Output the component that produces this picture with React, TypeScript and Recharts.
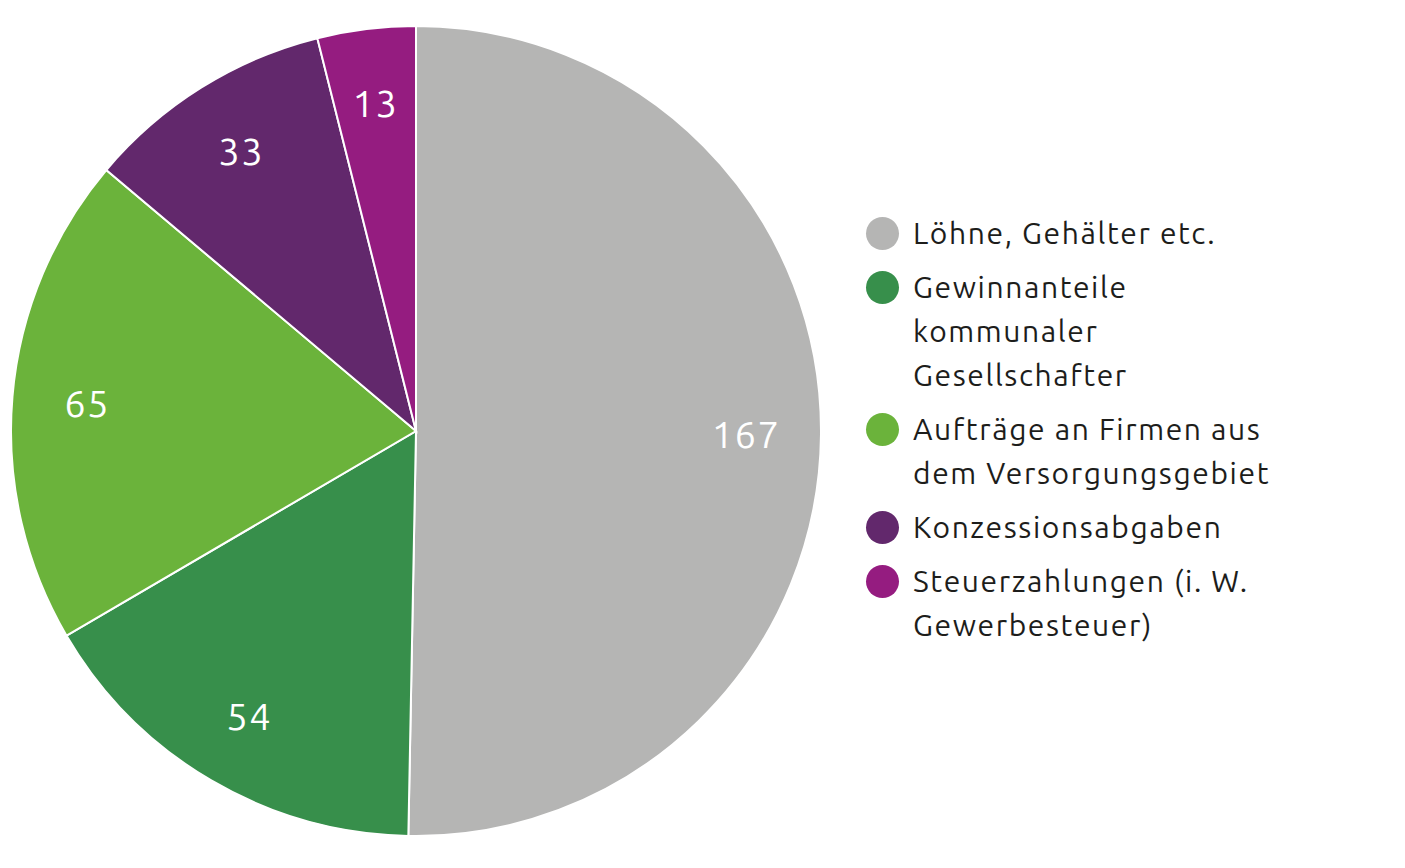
import { PieChart, Pie, Cell, Legend } from "recharts";

const categories = [
  "Löhne, Gehälter etc.",
  "Gewinnanteile kommunaler Gesellschafter",
  "Aufträge an Firmen aus dem Versorgungsgebiet",
  "Konzessionsabgaben",
  "Steuerzahlungen (i. W. Gewerbesteuer)",
];
const values = [167, 54, 65, 33, 13];
const colors = ["#b5b5b4", "#378f4b", "#6bb33b", "#62286c", "#951c80"];
// how the legend text wraps in the original
const legendLines = [
  ["Löhne, Gehälter etc."],
  ["Gewinnanteile", "kommunaler", "Gesellschafter"],
  ["Aufträge an Firmen aus", "dem Versorgungsgebiet"],
  ["Konzessionsabgaben"],
  ["Steuerzahlungen (i. W.", "Gewerbesteuer)"],
];

const data = categories.map((name, i) => ({ name, value: values[i] }));

const FONT = "Ubuntu, 'Noto Sans', 'Open Sans', sans-serif";
const RAD = Math.PI / 180;

const renderLabel = (props: any) => {
  const { cx, cy, midAngle, outerRadius, value } = props;
  const r = outerRadius * 0.815;
  const x = cx + r * Math.cos(-midAngle * RAD);
  const y = cy + r * Math.sin(-midAngle * RAD);
  return (
    <text
      x={x}
      y={y}
      fill="#fff"
      textAnchor="middle"
      dominantBaseline="central"
      fontSize={38}
      letterSpacing={1.5}
      fontFamily={FONT}
    >
      {value}
    </text>
  );
};

const renderLegend = () => (
  <div style={{ fontFamily: FONT, fontSize: 30, letterSpacing: 1.6, color: "#1d1d1b", lineHeight: "44px" }}>
    {legendLines.map((lines, i) => (
      <div key={i} style={{ display: "flex", alignItems: "flex-start", marginBottom: 10 }}>
        <span
          style={{
            width: 33,
            height: 33,
            borderRadius: "50%",
            background: colors[i],
            marginTop: 6,
            marginRight: 14,
            flexShrink: 0,
          }}
        />
        <div>
          {lines.map((l) => (
            <div key={l}>{l}</div>
          ))}
        </div>
      </div>
    ))}
  </div>
);

export default function App() {
  return (
    <div style={{ position: "absolute", left: 0, top: 0, width: 1405, height: 868, background: "#fff" }}>
      <PieChart width={1405} height={868} margin={{ top: 0, right: 0, bottom: 0, left: 0 }}>
        <Pie
          data={data}
          dataKey="value"
          nameKey="name"
          cx={416}
          cy={431}
          outerRadius={405}
          startAngle={90}
          endAngle={-270}
          stroke="#fff"
          strokeWidth={2}
          label={renderLabel}
          labelLine={false}
          isAnimationActive={false}
        >
          {data.map((d, i) => (
            <Cell key={d.name} fill={colors[i]} />
          ))}
        </Pie>
        <Legend content={renderLegend} wrapperStyle={{ left: 866, top: 211, width: 520 }} />
      </PieChart>
    </div>
  );
}
